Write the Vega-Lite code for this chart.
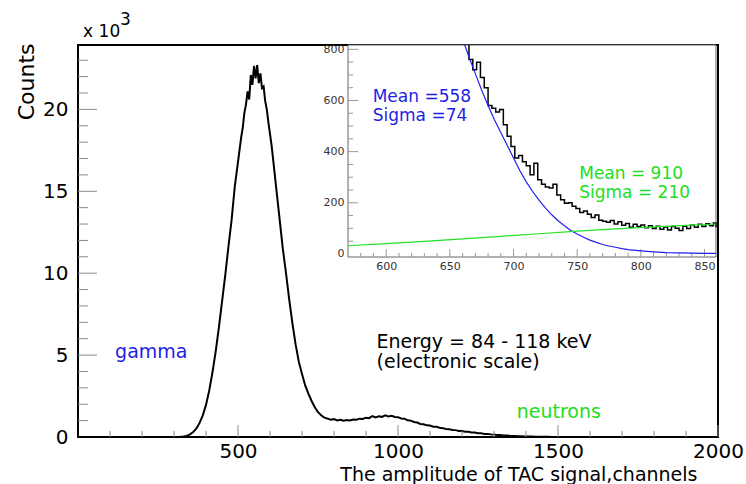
{
"$schema": "https://vega.github.io/schema/vega-lite/v6.json",
"width": 640, "height": 392,
"autosize": {"type": "none"},
"padding": {"left": 78, "top": 45, "right": 28, "bottom": 47},
"background": "white",
"config": {
  "view": {"stroke": "#000", "strokeWidth": 2},
  "axis": {"grid": false, "ticks": false, "domain": false, "labelFont": "DejaVu Sans", "titleFont": "DejaVu Sans", "labelFlush": false, "labelOverlap": false, "labelColor": "#000", "titleColor": "#000", "titleFontWeight": "normal", "format": "d"},
  "text": {"font": "DejaVu Sans"}
},
"datasets": {
  "main": [
    {"ch":0,"n":0},{"ch":300,"n":0},{"ch":310,"n":0},{"ch":320,"n":8},{"ch":330,"n":25},{"ch":340,"n":70},{"ch":350,"n":160},{"ch":360,"n":300},{"ch":370,"n":520},{"ch":380,"n":860},{"ch":390,"n":1320},{"ch":400,"n":1960},{"ch":410,"n":2830},{"ch":420,"n":3920},{"ch":430,"n":5180},{"ch":440,"n":6650},{"ch":450,"n":8250},{"ch":460,"n":9850},{"ch":470,"n":11600},{"ch":480,"n":13250},{"ch":490,"n":15300},{"ch":500,"n":16800},
    {"ch":510,"n":18300},{"ch":515,"n":18900},{"ch":520,"n":19800},{"ch":525,"n":20300},{"ch":530,"n":21100},{"ch":535,"n":20600},{"ch":540,"n":22100},{"ch":545,"n":21500},{"ch":550,"n":22650},{"ch":555,"n":21900},{"ch":560,"n":22700},{"ch":565,"n":21600},{"ch":570,"n":22200},{"ch":575,"n":21300},{"ch":580,"n":21400},{"ch":585,"n":20500},{"ch":590,"n":20000},{"ch":595,"n":19200},{"ch":600,"n":18500},{"ch":605,"n":17800},{"ch":610,"n":16900},{"ch":615,"n":16000},{"ch":620,"n":15100},
    {"ch":630,"n":13300},{"ch":640,"n":11500},{"ch":650,"n":10000},{"ch":660,"n":8400},{"ch":670,"n":6950},{"ch":680,"n":5650},{"ch":690,"n":4600},{"ch":700,"n":3850},{"ch":710,"n":3150},{"ch":720,"n":2650},{"ch":730,"n":2200},{"ch":740,"n":1820},{"ch":750,"n":1520},{"ch":760,"n":1330},{"ch":770,"n":1180},{"ch":780,"n":1120},{"ch":790,"n":1060},{"ch":800,"n":1090},{"ch":810,"n":1010},{"ch":820,"n":1050},{"ch":830,"n":990},{"ch":840,"n":1040},{"ch":850,"n":1010},{"ch":860,"n":1070},{"ch":870,"n":1050},{"ch":880,"n":1120},{"ch":890,"n":1100},{"ch":900,"n":1180},{"ch":910,"n":1150},{"ch":920,"n":1280},{"ch":930,"n":1200},{"ch":940,"n":1260},{"ch":950,"n":1230},{"ch":960,"n":1320},{"ch":970,"n":1260},{"ch":980,"n":1300},{"ch":990,"n":1220},{"ch":1000,"n":1210},{"ch":1010,"n":1130},{"ch":1020,"n":1120},{"ch":1030,"n":1020},{"ch":1040,"n":1000},{"ch":1050,"n":920},{"ch":1060,"n":880},{"ch":1070,"n":800},{"ch":1080,"n":780},{"ch":1090,"n":710},{"ch":1100,"n":700},{"ch":1110,"n":630},{"ch":1120,"n":620},{"ch":1130,"n":560},{"ch":1140,"n":540},{"ch":1150,"n":490},{"ch":1160,"n":480},{"ch":1170,"n":430},{"ch":1180,"n":420},{"ch":1190,"n":370},{"ch":1200,"n":370},{"ch":1210,"n":320},{"ch":1220,"n":320},{"ch":1230,"n":270},{"ch":1240,"n":270},{"ch":1250,"n":230},{"ch":1260,"n":230},{"ch":1270,"n":190},{"ch":1280,"n":185},{"ch":1290,"n":160},{"ch":1300,"n":145},{"ch":1310,"n":120},{"ch":1320,"n":115},{"ch":1330,"n":95},{"ch":1340,"n":88},{"ch":1350,"n":72},{"ch":1360,"n":68},{"ch":1370,"n":55},{"ch":1380,"n":50},{"ch":1390,"n":40},{"ch":1400,"n":36},{"ch":1410,"n":28},{"ch":1420,"n":25},{"ch":1430,"n":18},{"ch":1440,"n":16},{"ch":1450,"n":12},{"ch":1460,"n":10},{"ch":1470,"n":8},{"ch":1480,"n":6},{"ch":1490,"n":5},{"ch":1500,"n":4},{"ch":1510,"n":3},{"ch":1520,"n":2},{"ch":1540,"n":1},{"ch":1560,"n":0},{"ch":2000,"n":0}
  ],
  "inset": [
    {"ch":655,"n":980},{"ch":662,"n":860},{"ch":665,"n":760},{"ch":668,"n":720},{"ch":671,"n":750},{"ch":674,"n":690},{"ch":677,"n":650},{"ch":680,"n":580},{"ch":683,"n":570},{"ch":686,"n":555},{"ch":689,"n":565},{"ch":692,"n":505},{"ch":695,"n":460},{"ch":698,"n":420},{"ch":701,"n":375},{"ch":704,"n":385},{"ch":707,"n":360},{"ch":710,"n":345},{"ch":713,"n":310},{"ch":716,"n":355},{"ch":719,"n":290},{"ch":722,"n":272},{"ch":725,"n":262},{"ch":728,"n":258},{"ch":731,"n":272},{"ch":734,"n":230},{"ch":737,"n":212},{"ch":740,"n":198},{"ch":743,"n":200},{"ch":746,"n":186},{"ch":749,"n":178},{"ch":752,"n":162},{"ch":755,"n":168},{"ch":758,"n":155},{"ch":761,"n":142},{"ch":764,"n":152},{"ch":767,"n":132},{"ch":770,"n":128},{"ch":773,"n":124},{"ch":776,"n":131},{"ch":779,"n":117},{"ch":782,"n":126},{"ch":785,"n":112},{"ch":788,"n":119},{"ch":791,"n":104},{"ch":794,"n":116},{"ch":797,"n":107},{"ch":800,"n":113},{"ch":803,"n":102},{"ch":806,"n":110},{"ch":809,"n":99},{"ch":812,"n":108},{"ch":815,"n":97},{"ch":818,"n":105},{"ch":821,"n":94},{"ch":824,"n":107},{"ch":827,"n":100},{"ch":830,"n":92},{"ch":833,"n":108},{"ch":836,"n":99},{"ch":839,"n":112},{"ch":842,"n":104},{"ch":845,"n":116},{"ch":848,"n":107},{"ch":851,"n":118},{"ch":854,"n":110},{"ch":857,"n":121},{"ch":859,"n":104}
  ],
  "gfit": [
    {"ch":655,"n":900},{"ch":660,"n":840},{"ch":665,"n":770},{"ch":670,"n":705},{"ch":675,"n":640},{"ch":680,"n":580},{"ch":685,"n":525},{"ch":690,"n":475},{"ch":695,"n":425},{"ch":700,"n":375},{"ch":705,"n":325},{"ch":710,"n":282},{"ch":715,"n":244},{"ch":720,"n":210},{"ch":725,"n":180},{"ch":730,"n":153},{"ch":735,"n":130},{"ch":740,"n":110},{"ch":745,"n":92},{"ch":750,"n":78},{"ch":755,"n":65},{"ch":760,"n":54},{"ch":765,"n":45},{"ch":770,"n":37},{"ch":775,"n":31},{"ch":780,"n":26},{"ch":785,"n":21},{"ch":790,"n":17},{"ch":800,"n":12},{"ch":810,"n":8},{"ch":820,"n":5},{"ch":830,"n":4},{"ch":840,"n":3},{"ch":850,"n":2},{"ch":859,"n":2}
  ],
  "nfit": [
    {"ch":570,"n":32},{"ch":600,"n":40},{"ch":630,"n":49},{"ch":660,"n":59},{"ch":690,"n":69},{"ch":720,"n":79},{"ch":750,"n":89},{"ch":780,"n":98},{"ch":810,"n":106},{"ch":840,"n":113},{"ch":859,"n":117}
  ],
  "notes": [
    {"t":"gamma","x":116,"y":4823,"kind":"gamma"},
    {"t":"neutrons","x":1371,"y":1160,"kind":"neutrons"},
    {"t":"Energy = 84 - 118 keV","x":933,"y":5452,"kind":"note"},
    {"t":"(electronic scale)","x":933,"y":4194,"kind":"note"}
  ],
  "exponent": [
    {"t":"x 10","x":16,"y":24420},
    {"t":"3","x":131,"y":25153}
  ],
  "insetNotes": [
    {"t":"Mean =558","x":589.4,"y":595,"kind":"gamma"},
    {"t":"Sigma =74","x":589.4,"y":521,"kind":"gamma"},
    {"t":"Mean = 910","x":751.6,"y":293,"kind":"neutrons"},
    {"t":"Sigma = 210","x":751.6,"y":217,"kind":"neutrons"}
  ],
  "mxMajor": [{"v":500},{"v":1000},{"v":1500},{"v":2000}],
  "mxMinor": [{"v":100},{"v":200},{"v":300},{"v":400},{"v":600},{"v":700},{"v":800},{"v":900},{"v":1100},{"v":1200},{"v":1300},{"v":1400},{"v":1600},{"v":1700},{"v":1800},{"v":1900}],
  "myMajor": [{"v":5000},{"v":10000},{"v":15000},{"v":20000}],
  "myMinor": [{"v":1000},{"v":2000},{"v":3000},{"v":4000},{"v":6000},{"v":7000},{"v":8000},{"v":9000},{"v":11000},{"v":12000},{"v":13000},{"v":14000},{"v":16000},{"v":17000},{"v":18000},{"v":19000},{"v":21000},{"v":22000},{"v":23000}],
  "ixMajor": [{"v":600},{"v":650},{"v":700},{"v":750},{"v":800},{"v":850}],
  "ixMinor": [{"v":580},{"v":590},{"v":610},{"v":620},{"v":630},{"v":640},{"v":660},{"v":670},{"v":680},{"v":690},{"v":710},{"v":720},{"v":730},{"v":740},{"v":760},{"v":770},{"v":780},{"v":790},{"v":810},{"v":820},{"v":830},{"v":840}],
  "iyMajor": [{"v":200},{"v":400},{"v":600},{"v":800}],
  "iyMinor": [{"v":50},{"v":100},{"v":150},{"v":250},{"v":300},{"v":350},{"v":450},{"v":500},{"v":550},{"v":650},{"v":700},{"v":750}]
},
"resolve": {"scale": {"x": "independent", "y": "independent", "color": "independent"}},
"layer": [
  {
    "resolve": {"axis": {"x": "independent", "y": "independent"}},
    "layer": [
      {
        "data": {"name": "main"},
        "mark": {"type": "line", "color": "#000", "strokeWidth": 2},
        "encoding": {
          "x": {"field": "ch", "type": "quantitative", "scale": {"domain": [0, 2000], "nice": false, "zero": false},
                "axis": {"orient": "bottom", "values": [500, 1000, 1500, 2000], "labelPadding": 4, "labelFontSize": 20,
                         "title": "The amplitude of TAC signal,channels", "titleFontSize": 19, "titleAlign": "right", "titleBaseline": "alphabetic", "titleX": 619, "titleY": 43}},
          "y": {"field": "n", "type": "quantitative", "scale": {"domain": [0, 23930], "nice": false},
                "axis": {"orient": "left", "values": [0, 5000, 10000, 15000, 20000], "labelExpr": "datum.value / 1000", "labelPadding": 10, "labelFontSize": 20,
                         "title": "Counts", "titleFontSize": 22, "titleAngle": 270, "titleAlign": "right", "titleBaseline": "alphabetic", "titleX": -45, "titleY": -2}}
        }
      },
      {
        "data": {"name": "mxMajor"},
        "mark": {"type": "rule", "color": "#888", "strokeWidth": 1},
        "encoding": {"x": {"field": "v", "type": "quantitative", "axis": {"orient": "bottom", "labels": false, "title": null}}, "y": {"datum": 0, "type": "quantitative", "axis": {"orient": "left", "labels": false, "title": null}}, "y2": {"datum": 733}}
      },
      {
        "data": {"name": "mxMinor"},
        "mark": {"type": "rule", "color": "#888", "strokeWidth": 1},
        "encoding": {"x": {"field": "v", "type": "quantitative", "axis": {"orient": "bottom", "labels": false, "title": null}}, "y": {"datum": 0, "type": "quantitative", "axis": {"orient": "left", "labels": false, "title": null}}, "y2": {"datum": 366}}
      },
      {
        "data": {"name": "myMajor"},
        "mark": {"type": "rule", "color": "#888", "strokeWidth": 1},
        "encoding": {"y": {"field": "v", "type": "quantitative", "axis": {"orient": "left", "labels": false, "title": null}}, "x": {"datum": 0, "type": "quantitative", "axis": {"orient": "bottom", "labels": false, "title": null}}, "x2": {"datum": 59}}
      },
      {
        "data": {"name": "myMinor"},
        "mark": {"type": "rule", "color": "#888", "strokeWidth": 1},
        "encoding": {"y": {"field": "v", "type": "quantitative", "axis": {"orient": "left", "labels": false, "title": null}}, "x": {"datum": 0, "type": "quantitative", "axis": {"orient": "bottom", "labels": false, "title": null}}, "x2": {"datum": 31}}
      },
      {
        "data": {"name": "notes"},
        "mark": {"type": "text", "align": "left", "baseline": "alphabetic", "fontSize": 19},
        "encoding": {
          "x": {"field": "x", "type": "quantitative", "axis": null},
          "y": {"field": "y", "type": "quantitative", "axis": null},
          "text": {"field": "t"},
          "color": {"field": "kind", "type": "nominal", "scale": {"domain": ["gamma", "neutrons", "note"], "range": ["#1e1ee6", "#22dd22", "#000000"]}, "legend": null}
        }
      },
      {
        "data": {"name": "exponent"},
        "mark": {"type": "text", "align": "left", "baseline": "alphabetic", "fontSize": 17, "color": "#000"},
        "encoding": {
          "x": {"field": "x", "type": "quantitative", "axis": null},
          "y": {"field": "y", "type": "quantitative", "axis": null},
          "text": {"field": "t"}
        }
      }
    ]
  },
  {
    "resolve": {"axis": {"x": "independent", "y": "independent"}},
    "layer": [
      {
        "data": {"values": [{}]},
        "mark": {"type": "rect", "fill": "#fff", "stroke": "#666", "strokeWidth": 1},
        "encoding": {
          "x": {"datum": 570, "type": "quantitative", "scale": {"domain": [570, 859], "range": [270, 638], "nice": false, "zero": false},
                "axis": {"orient": "bottom", "offset": -180, "values": [600, 650, 700, 750, 800, 850], "labelPadding": 3, "labelFontSize": 11, "labelColor": "#333", "title": null, "zindex": 1}},
          "x2": {"datum": 859},
          "y": {"datum": -12, "type": "quantitative", "scale": {"domain": [-12, 817], "range": [212, 0], "nice": false, "zero": false},
                "axis": {"orient": "left", "offset": -270, "values": [0, 200, 400, 600, 800], "labelPadding": 4, "labelFontSize": 11, "labelColor": "#333", "title": null, "zindex": 1}},
          "y2": {"datum": 817}
        }
      },
      {
        "data": {"name": "ixMajor"},
        "mark": {"type": "rule", "color": "#999", "strokeWidth": 1},
        "encoding": {"x": {"field": "v", "type": "quantitative", "axis": {"orient": "bottom", "labels": false, "title": null}}, "y": {"datum": -12, "type": "quantitative", "axis": {"orient": "left", "labels": false, "title": null}}, "y2": {"datum": 19}}
      },
      {
        "data": {"name": "ixMinor"},
        "mark": {"type": "rule", "color": "#999", "strokeWidth": 1},
        "encoding": {"x": {"field": "v", "type": "quantitative", "axis": {"orient": "bottom", "labels": false, "title": null}}, "y": {"datum": -12, "type": "quantitative", "axis": {"orient": "left", "labels": false, "title": null}}, "y2": {"datum": 4}}
      },
      {
        "data": {"name": "iyMajor"},
        "mark": {"type": "rule", "color": "#999", "strokeWidth": 1},
        "encoding": {"y": {"field": "v", "type": "quantitative", "axis": {"orient": "left", "labels": false, "title": null}}, "x": {"datum": 570, "type": "quantitative", "axis": {"orient": "bottom", "labels": false, "title": null}}, "x2": {"datum": 578}}
      },
      {
        "data": {"name": "iyMinor"},
        "mark": {"type": "rule", "color": "#999", "strokeWidth": 1},
        "encoding": {"y": {"field": "v", "type": "quantitative", "axis": {"orient": "left", "labels": false, "title": null}}, "x": {"datum": 570, "type": "quantitative", "axis": {"orient": "bottom", "labels": false, "title": null}}, "x2": {"datum": 574}}
      },
      {
        "data": {"name": "inset"},
        "mark": {"type": "line", "interpolate": "step-after", "color": "#000", "strokeWidth": 1.5, "clip": true},
        "encoding": {
          "x": {"field": "ch", "type": "quantitative", "axis": null},
          "y": {"field": "n", "type": "quantitative", "axis": null}
        }
      },
      {
        "data": {"name": "gfit"},
        "mark": {"type": "line", "color": "#2020f0", "strokeWidth": 1.2, "clip": true},
        "encoding": {
          "x": {"field": "ch", "type": "quantitative", "axis": null},
          "y": {"field": "n", "type": "quantitative", "axis": null}
        }
      },
      {
        "data": {"name": "nfit"},
        "mark": {"type": "line", "color": "#22e022", "strokeWidth": 1.2, "clip": true},
        "encoding": {
          "x": {"field": "ch", "type": "quantitative", "axis": null},
          "y": {"field": "n", "type": "quantitative", "axis": null}
        }
      },
      {
        "data": {"name": "insetNotes"},
        "mark": {"type": "text", "align": "left", "baseline": "alphabetic", "fontSize": 17},
        "encoding": {
          "x": {"field": "x", "type": "quantitative", "axis": null},
          "y": {"field": "y", "type": "quantitative", "axis": null},
          "text": {"field": "t"},
          "color": {"field": "kind", "type": "nominal", "scale": {"domain": ["gamma", "neutrons"], "range": ["#1e1ee6", "#22dd22"]}, "legend": null}
        }
      }
    ]
  }
]
}
